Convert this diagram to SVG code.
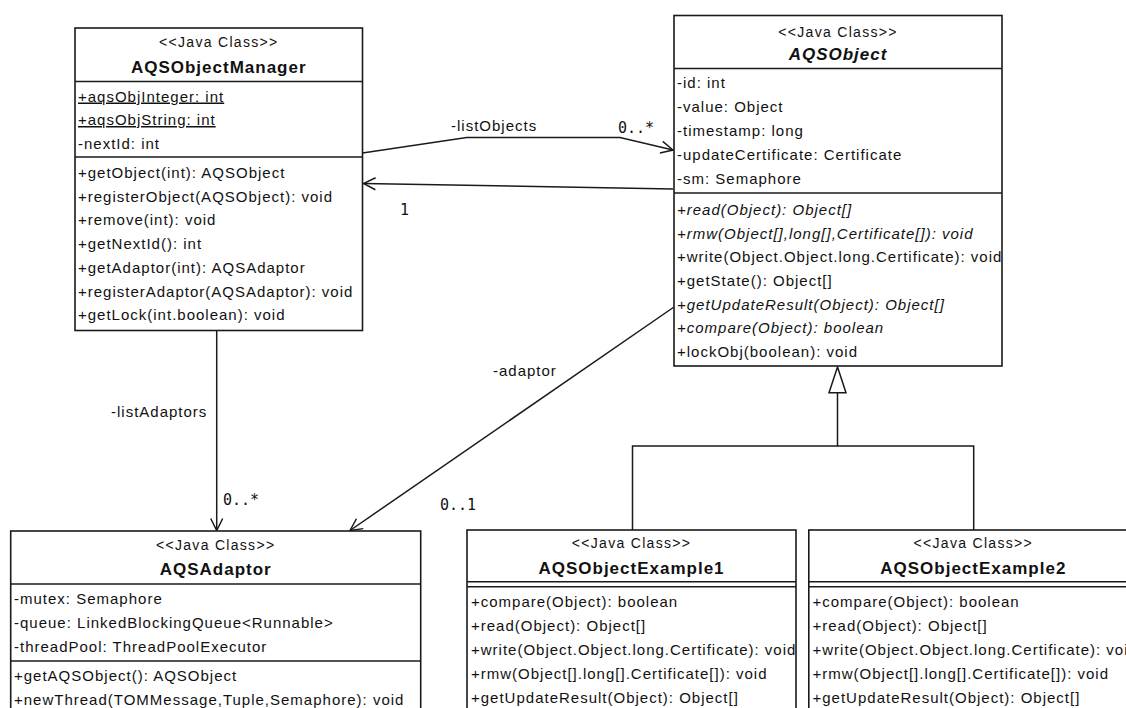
<svg xmlns="http://www.w3.org/2000/svg" width="1126" height="708" viewBox="0 0 1126 708">
<style>
.box{fill:#fff;stroke:#1a1a1a;stroke-width:1.6}
.sep{stroke:#1a1a1a;stroke-width:1.6}
.t{font-family:"Liberation Sans",Arial,sans-serif;font-size:15px;letter-spacing:1px;fill:#111}
.st{font-family:"Liberation Sans",Arial,sans-serif;font-size:14px;letter-spacing:1.3px;fill:#111;text-anchor:middle}
.nm{font-family:"Liberation Sans",Arial,sans-serif;font-size:17px;font-weight:bold;letter-spacing:1px;fill:#111;text-anchor:middle}
.it{font-style:italic}
.u{text-decoration:underline}
.ml{font-family:"DejaVu Sans Mono",monospace;font-size:15px;fill:#111}
.ln{fill:none;stroke:#1a1a1a;stroke-width:1.5}
</style>
<defs>
<marker id="open" viewBox="0 0 14 14" refX="13" refY="7" markerWidth="14" markerHeight="14" markerUnits="userSpaceOnUse" orient="auto">
<path d="M1,1 L13,7 L1,13" fill="none" stroke="#1a1a1a" stroke-width="1.5"/>
</marker>
</defs>
<rect width="1126" height="708" fill="#fff"/>

<g id="connectors">
<polyline class="ln" points="362.5,153 466.7,137.5 620,137.5 673,150" marker-end="url(#open)"/>
<line class="ln" x1="673" y1="189" x2="363.5" y2="183.5" marker-end="url(#open)"/>
<line class="ln" x1="216.7" y1="331" x2="216.7" y2="530.5" marker-end="url(#open)"/>
<line class="ln" x1="674" y1="307" x2="350" y2="530.5" marker-end="url(#open)"/>
<polyline class="ln" points="632.5,530 632.5,446 973.7,446 973.7,530"/>
<line class="ln" x1="837.5" y1="446" x2="837.5" y2="392.7"/>
<polygon points="837.5,367 829,392.7 846,392.7" fill="#fff" stroke="#1a1a1a" stroke-width="1.5"/>
<text class="t" x="451" y="131">-listObjects</text>
<text class="ml" x="618" y="133">0..*</text>
<text class="ml" x="400" y="215">1</text>
<text class="t" x="111" y="417">-listAdaptors</text>
<text class="ml" x="223" y="505">0..*</text>
<text class="t" x="493" y="376">-adaptor</text>
<text class="ml" x="440" y="510">0..1</text>
</g>

<g id="AQSObjectManager">
<rect class="box" x="75" y="28" width="287.5" height="302.5"/>
<line class="sep" x1="75" y1="81.5" x2="362.5" y2="81.5"/>
<line class="sep" x1="75" y1="157" x2="362.5" y2="157"/>
<text class="st" x="218.75" y="47">&lt;&lt;Java Class&gt;&gt;</text>
<text class="nm" x="218.75" y="72.5">AQSObjectManager</text>
<text class="t u" x="78" y="101.5">+aqsObjInteger: int</text>
<text class="t u" x="78" y="125">+aqsObjString: int</text>
<text class="t" x="78" y="148.5">-nextId: int</text>
<text class="t" x="78" y="178">+getObject(int): AQSObject</text>
<text class="t" x="78" y="201.7">+registerObject(AQSObject): void</text>
<text class="t" x="78" y="225.4">+remove(int): void</text>
<text class="t" x="78" y="249">+getNextId(): int</text>
<text class="t" x="78" y="272.8">+getAdaptor(int): AQSAdaptor</text>
<text class="t" x="78" y="296.5">+registerAdaptor(AQSAdaptor): void</text>
<text class="t" x="78" y="320.2">+getLock(int.boolean): void</text>
</g>

<g id="AQSObject">
<rect class="box" x="674" y="15.5" width="328" height="350.5"/>
<line class="sep" x1="674" y1="68.5" x2="1002" y2="68.5"/>
<line class="sep" x1="674" y1="193" x2="1002" y2="193"/>
<text class="st" x="838" y="36.5">&lt;&lt;Java Class&gt;&gt;</text>
<text class="nm it" x="838" y="60">AQSObject</text>
<text class="t" x="677" y="88">-id: int</text>
<text class="t" x="677" y="112">-value: Object</text>
<text class="t" x="677" y="136">-timestamp: long</text>
<text class="t" x="677" y="160">-updateCertificate: Certificate</text>
<text class="t" x="677" y="184">-sm: Semaphore</text>
<text class="t it" x="677" y="215">+read(Object): Object[]</text>
<text class="t it" x="677" y="238.7">+rmw(Object[],long[],Certificate[]): void</text>
<text class="t" x="677" y="262.3">+write(Object.Object.long.Certificate): void</text>
<text class="t" x="677" y="286">+getState(): Object[]</text>
<text class="t it" x="677" y="309.7">+getUpdateResult(Object): Object[]</text>
<text class="t it" x="677" y="333.3">+compare(Object): boolean</text>
<text class="t" x="677" y="357">+lockObj(boolean): void</text>
</g>

<g id="AQSAdaptor">
<rect class="box" x="10.7" y="531" width="410" height="200"/>
<line class="sep" x1="10.7" y1="584" x2="420.7" y2="584"/>
<line class="sep" x1="10.7" y1="661" x2="420.7" y2="661"/>
<text class="st" x="215.7" y="550">&lt;&lt;Java Class&gt;&gt;</text>
<text class="nm" x="215.7" y="574.5">AQSAdaptor</text>
<text class="t" x="14" y="604">-mutex: Semaphore</text>
<text class="t" x="14" y="628">-queue: LinkedBlockingQueue&lt;Runnable&gt;</text>
<text class="t" x="14" y="652">-threadPool: ThreadPoolExecutor</text>
<text class="t" x="14" y="681">+getAQSObject(): AQSObject</text>
<text class="t" x="14" y="704.5">+newThread(TOMMessage,Tuple,Semaphore): void</text>
</g>

<g id="AQSObjectExample1">
<rect class="box" x="467" y="530" width="329" height="200"/>
<line class="sep" x1="467" y1="581.7" x2="796" y2="581.7"/>
<line class="sep" x1="467" y1="586.7" x2="796" y2="586.7"/>
<text class="st" x="631.5" y="548">&lt;&lt;Java Class&gt;&gt;</text>
<text class="nm" x="631.5" y="574">AQSObjectExample1</text>
<text class="t" x="471" y="607">+compare(Object): boolean</text>
<text class="t" x="471" y="631">+read(Object): Object[]</text>
<text class="t" x="471" y="655">+write(Object.Object.long.Certificate): void</text>
<text class="t" x="471" y="679">+rmw(Object[].long[].Certificate[]): void</text>
<text class="t" x="471" y="703">+getUpdateResult(Object): Object[]</text>
</g>

<g id="AQSObjectExample2">
<rect class="box" x="808.8" y="530" width="329" height="200"/>
<line class="sep" x1="808.8" y1="581.7" x2="1137.8" y2="581.7"/>
<line class="sep" x1="808.8" y1="586.7" x2="1137.8" y2="586.7"/>
<text class="st" x="973.3" y="548">&lt;&lt;Java Class&gt;&gt;</text>
<text class="nm" x="973.3" y="574">AQSObjectExample2</text>
<text class="t" x="812.5" y="607">+compare(Object): boolean</text>
<text class="t" x="812.5" y="631">+read(Object): Object[]</text>
<text class="t" x="812.5" y="655">+write(Object.Object.long.Certificate): void</text>
<text class="t" x="812.5" y="679">+rmw(Object[].long[].Certificate[]): void</text>
<text class="t" x="812.5" y="703">+getUpdateResult(Object): Object[]</text>
</g>
</svg>
